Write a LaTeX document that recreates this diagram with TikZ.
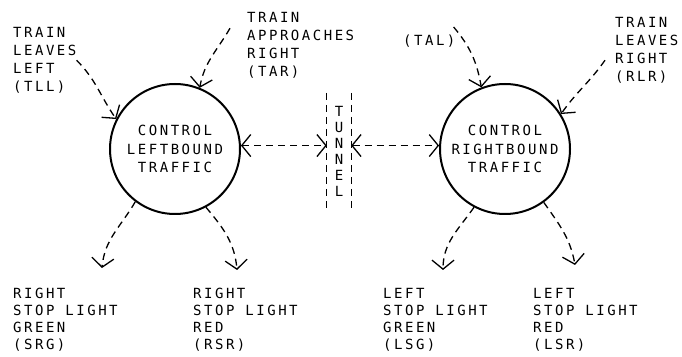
\documentclass[tikz,border=0pt]{standalone}
\usepackage{fontspec}
\newfontfamily\plotfont[LetterSpace=18]{DejaVu Sans Mono}
\usetikzlibrary{arrows.meta}

\begin{document}
\begin{tikzpicture}[x=1pt, y=1pt,
    >={Straight Barb[length=9pt, width=22pt]},
    every node/.style={inner sep=0pt, font=\plotfont\fontsize{14}{17}\selectfont},
    txt/.style={align=left, anchor=north west},
    process/.style={circle, draw, line width=2pt, minimum size=130pt, align=center,
      font=\plotfont\fontsize{14}{18.5}\selectfont},
    wall/.style={line width=1.3pt, dash pattern=on 7pt off 5pt},
    flow/.style={->, line width=1.3pt, dash pattern=on 7pt off 5pt}]
  \useasboundingbox (0,0) rectangle (682,356);

  % the two controllers and the tunnel between them
  \node[process] (lb) at (175,207) {CONTROL\\LEFTBOUND\\TRAFFIC};
  \node[process] (rb) at (505,207) {CONTROL\\RIGHTBOUND\\TRAFFIC};
  \node[align=center, minimum width=24pt, minimum height=117pt,
    font=\plotfont\fontsize{14}{16}\selectfont] (tun) at (339,204.5) {T\\U\\N\\N\\E\\L};
  \draw[wall] (tun.north west) -- (tun.south west);
  \draw[wall] (tun.north east) -- (tun.south east);

  % train sensors
  \node[txt, font=\plotfont\fontsize{14}{18}\selectfont] (tll) at (13,329) {TRAIN\\LEAVES\\LEFT\\(TLL)};
  \node[txt, font=\plotfont\fontsize{14}{18}\selectfont] (tar) at (247,344) {TRAIN\\APPROACHES\\RIGHT\\(TAR)};
  \node[txt] (tal) at (403,321) {(TAL)};
  \node[txt, font=\plotfont\fontsize{14}{18}\selectfont] (rlr) at (615,339) {TRAIN\\LEAVES\\RIGHT\\(RLR)};

  % stop lights
  \node[txt] (srg) at (13,68) {RIGHT\\STOP LIGHT\\GREEN\\(SRG)};
  \node[txt] (rsr) at (193,68) {RIGHT\\STOP LIGHT\\RED\\(RSR)};
  \node[txt] (lsg) at (383,68) {LEFT\\STOP LIGHT\\GREEN\\(LSG)};
  \node[txt] (lsr) at (533,68) {LEFT\\STOP LIGHT\\RED\\(LSR)};

  % inputs
  \draw[flow] (tll.east) to[out=-45, in=125] (lb.153);
  \draw[flow] ([shift={(-17,17)}]tar.west) to[out=-120, in=80] (lb.68);
  \draw[flow] ([shift={(-2,8)}]tal.north east) to[out=-50, in=100] (rb.111);
  \draw[flow] ([shift={(-10,-10)}]rlr.west) to[out=-125, in=55] (rb.32);

  % tunnel links
  \draw[flow, <->] (lb.3) -- (lb.3 -| tun.west);
  \draw[flow, <->] (rb.177 -| tun.east) -- (rb.177);

  % outputs
  \draw[flow] (lb.-127) to[out=-120, in=85] ([shift={(89,20)}]srg.north west);
  \draw[flow] (lb.-62) to[out=-50, in=95] ([shift={(44,18)}]rsr.north west);
  \draw[flow] (rb.-118) to[out=-125, in=90] ([shift={(60,18)}]lsg.north west);
  \draw[flow] (rb.-54) to[out=-55, in=100] ([shift={(42,23)}]lsr.north west);
\end{tikzpicture}
\end{document}
